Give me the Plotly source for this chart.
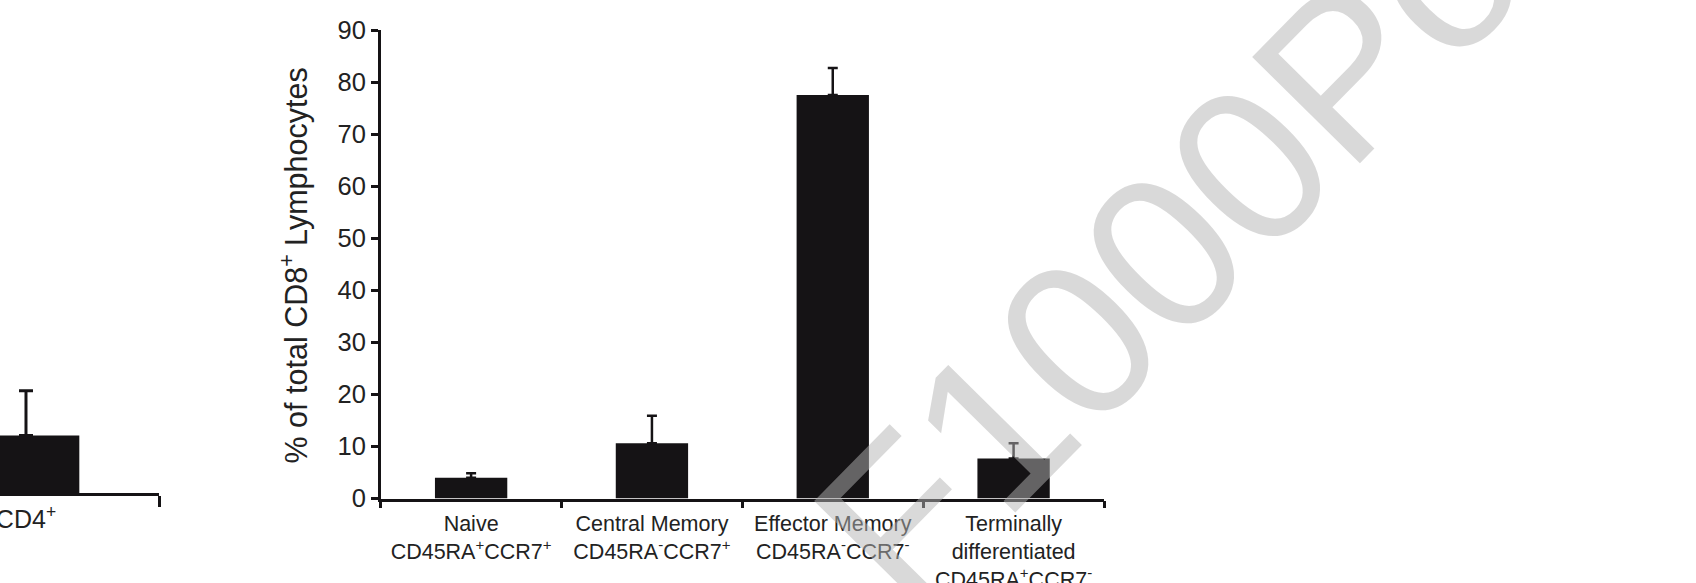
import plotly.graph_objects as go

# ---- data ----
cd8_categories = [
    "Naive<br>CD45RA<sup>+</sup>CCR7<sup>+</sup>",
    "Central Memory<br>CD45RA<sup>-</sup>CCR7<sup>+</sup>",
    "Effector Memory<br>CD45RA<sup>-</sup>CCR7<sup>-</sup>",
    "Terminally<br>differentiated<br>CD45RA<sup>+</sup>CCR7<sup>-</sup>",
]
cd8_values = [4.0, 10.6, 77.5, 7.7]
cd8_errors = [0.85, 5.3, 5.2, 2.9]

cd4_categories = ["CD4<sup>+</sup>"]
cd4_values = [11.1]
cd4_errors = [8.6]

y_ticks = [0, 10, 20, 30, 40, 50, 60, 70, 80, 90]
y_title = "% of total CD8<sup>+</sup> Lymphocytes"
watermark = "F1000Posters"

# ---- style ----
W, H = 1696, 583
INK = "#151315"
TXT = "#222222"
FONT = "Liberation Sans, Arial, sans-serif"


def px_x(v):
    return v / W


def px_y(v):  # v measured from top
    return (H - v) / H


fig = go.Figure()

fig.add_trace(go.Bar(
    x=cd8_categories, y=cd8_values,
    marker=dict(color=INK, line=dict(width=0)),
    error_y=dict(type="data", symmetric=False, array=cd8_errors,
                 arrayminus=[0] * len(cd8_errors),
                 color=INK, thickness=2.5, width=5),
    xaxis="x", yaxis="y", showlegend=False,
))

fig.add_trace(go.Bar(
    x=cd4_categories, y=cd4_values,
    marker=dict(color=INK, line=dict(width=0)),
    error_y=dict(type="data", symmetric=False, array=cd4_errors,
                 arrayminus=[0] * len(cd4_errors),
                 color=INK, thickness=3, width=7),
    xaxis="x2", yaxis="y2", showlegend=False,
))

axis_common = dict(showgrid=False, zeroline=False, showline=True,
                   linecolor=INK, tickcolor=INK, ticks="outside",
                   automargin=False)

fig.update_layout(
    width=W, height=H,
    margin=dict(l=0, r=0, t=0, b=0, pad=0),
    paper_bgcolor="white", plot_bgcolor="rgba(0,0,0,0)",
    bargap=0.6,
    font=dict(family=FONT, color=TXT),
    xaxis=dict(
        **axis_common,
        domain=[px_x(380.7), px_x(1104)],
        type="category", categoryorder="array", categoryarray=cd8_categories,
        range=[-0.5, 3.5], anchor="y",
        linewidth=2.5, tickwidth=2.5, ticklen=7, tickson="boundaries",
        ticklabelstandoff=4,
        tickfont=dict(size=21.5, family=FONT, color=TXT),
    ),
    yaxis=dict(
        **axis_common,
        domain=[px_y(498.5), px_y(30)],
        range=[0, 90], tickvals=y_ticks, anchor="x",
        linewidth=2.5, tickwidth=2.5, ticklen=7,
        tickfont=dict(size=25.5, family=FONT, color=TXT),
    ),
    xaxis2=dict(
        **axis_common,
        domain=[0, px_x(159.3)],
        type="category", categoryorder="array", categoryarray=cd4_categories,
        range=[-0.0975, 0.5], anchor="y2",
        linewidth=2.7, tickwidth=2.7, ticklen=11, tickson="boundaries",
        ticklabelstandoff=2,
        tickfont=dict(size=25, family=FONT, color=TXT),
    ),
    yaxis2=dict(
        domain=[px_y(493.3), px_y(24.8)],
        range=[0, 90], anchor="x2", visible=False,
    ),
    annotations=[
        dict(text=y_title, x=px_x(295), y=px_y(265.5), xref="paper", yref="paper",
             textangle=-90, showarrow=False, xanchor="center", yanchor="middle",
             font=dict(size=30.5, family=FONT, color=TXT)),
        dict(text=watermark, x=px_x(1336), y=px_y(79), xref="paper", yref="paper",
             textangle=-45.4, showarrow=False, xanchor="center", yanchor="middle",
             font=dict(size=220, family=FONT, weight=400,
                       color="rgba(180,180,180,0.5)")),
    ],
)

fig.write_html(
    "out.html",
    config={"displayModeBar": False},
    post_script="document.body.style.margin='0';document.body.style.padding='0';",
)
